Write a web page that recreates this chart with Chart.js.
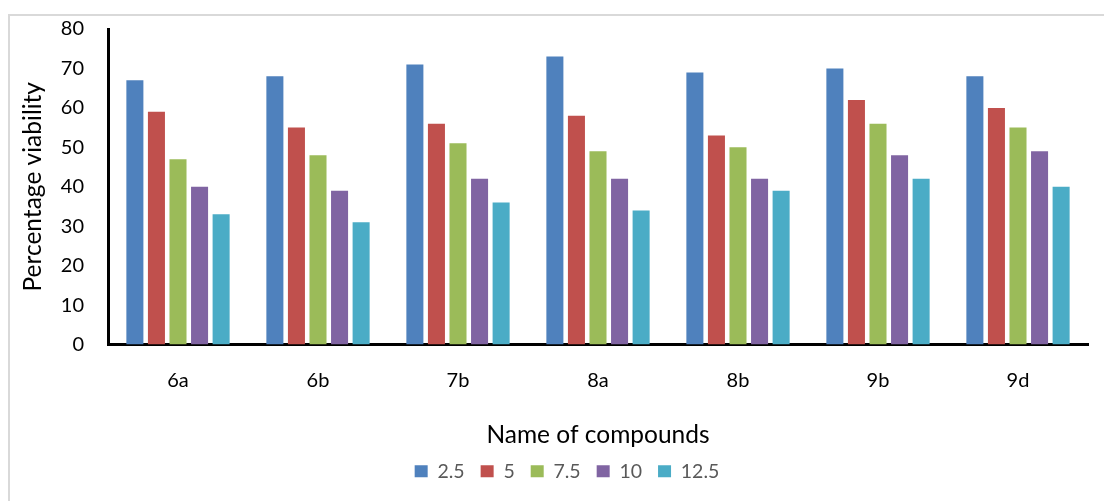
<!DOCTYPE html>
<html>
<head>
<meta charset="utf-8">
<script src="https://cdn.jsdelivr.net/npm/chart.js@4.4.0/dist/chart.umd.min.js"></script>
<style>
  html, body { margin: 0; padding: 0; background: #ffffff; }
  #wrap { position: relative; width: 1104px; height: 501px; }
</style>
</head>
<body>
<div id="wrap"><canvas id="chart"></canvas></div>
<script>
// Compounds tested and percentage viability at each concentration
const compounds = ['6a', '6b', '7b', '8a', '8b', '9b', '9d'];
const seriesNames = ['2.5', '5', '7.5', '10', '12.5'];
const viability2_5 = [67, 68, 71, 73, 69, 70, 68];
const viability5 = [59, 55, 56, 58, 53, 62, 60];
const viability7_5 = [47, 48, 51, 49, 50, 56, 55];
const viability10 = [40, 39, 42, 42, 42, 48, 49];
const viability12_5 = [33, 31, 36, 34, 39, 42, 40];
const yTickValues = [0, 10, 20, 30, 40, 50, 60, 70, 80];

const seriesColors = ['#4F81BD', '#C0504D', '#9BBB59', '#8064A2', '#4BACC6'];
const seriesValues = [viability2_5, viability5, viability7_5, viability10, viability12_5];

const FONT = 'Lato, "DejaVu Sans", sans-serif';

// Light grey frame around the chart (top and left edges visible)
const framePlugin = {
  id: 'frame',
  beforeDraw(chart) {
    const ctx = chart.ctx;
    ctx.save();
    ctx.fillStyle = '#d9d9d9';
    ctx.fillRect(8, 14, chart.width - 8, 2);
    ctx.fillRect(8, 14, 2, chart.height - 14);
    ctx.restore();
  }
};

// Place the legend row just under the axis title
const legendPlacement = {
  id: 'legendPlacement',
  afterLayout(chart) {
    const lg = chart.legend;
    if (!lg) return;
    const dx = 567 - (lg.left + lg.right) / 2;
    lg.left += dx;
    lg.right += dx;
    lg.top -= 6;
    lg.bottom -= 6;
  }
};

new Chart(document.getElementById('chart'), {
  type: 'bar',
  data: {
    labels: compounds,
    datasets: seriesNames.map((name, i) => ({
      label: name,
      data: seriesValues[i],
      backgroundColor: seriesColors[i],
      borderWidth: 0,
      barPercentage: 0.79,
      categoryPercentage: 0.77
    }))
  },
  options: {
    responsive: true,
    maintainAspectRatio: false,
    animation: false,
    layout: { padding: { left: 0, right: 16, top: 29, bottom: 4 } },
    plugins: {
      tooltip: { enabled: false },
      legend: {
        display: true,
        position: 'bottom',
        align: 'center',
        labels: {
          boxWidth: 13,
          boxHeight: 12,
          padding: 16,
          color: '#595959',
          font: { family: FONT, size: 19.5 }
        }
      }
    },
    scales: {
      x: {
        // hidden tick marks keep the labels clear of the axis line
        grid: { display: false, drawTicks: true, tickLength: 21 },
        border: { display: true, color: '#000000', width: 3 },
        ticks: { color: '#000000', padding: 3, font: { family: FONT, size: 20 } },
        title: {
          display: true,
          text: 'Name of compounds',
          color: '#000000',
          font: { family: FONT, size: 24.5 },
          padding: { top: 0, bottom: 2 }
        },
        afterFit(scale) { scale.height = 107; }
      },
      y: {
        min: 0,
        max: 80,
        afterBuildTicks(scale) { scale.ticks = yTickValues.map(v => ({ value: v })); },
        grid: { display: false, drawTicks: true, tickLength: 21 },
        border: { display: true, color: '#000000', width: 3 },
        ticks: { color: '#000000', padding: 3, font: { family: FONT, size: 20 } },
        title: {
          display: true,
          text: 'Percentage viability',
          color: '#000000',
          font: { family: FONT, size: 24.5 },
          padding: { top: 18, bottom: 0 }
        },
        afterFit(scale) { scale.width = 108; }
      }
    }
  },
  plugins: [framePlugin, legendPlacement]
});
</script>
</body>
</html>
